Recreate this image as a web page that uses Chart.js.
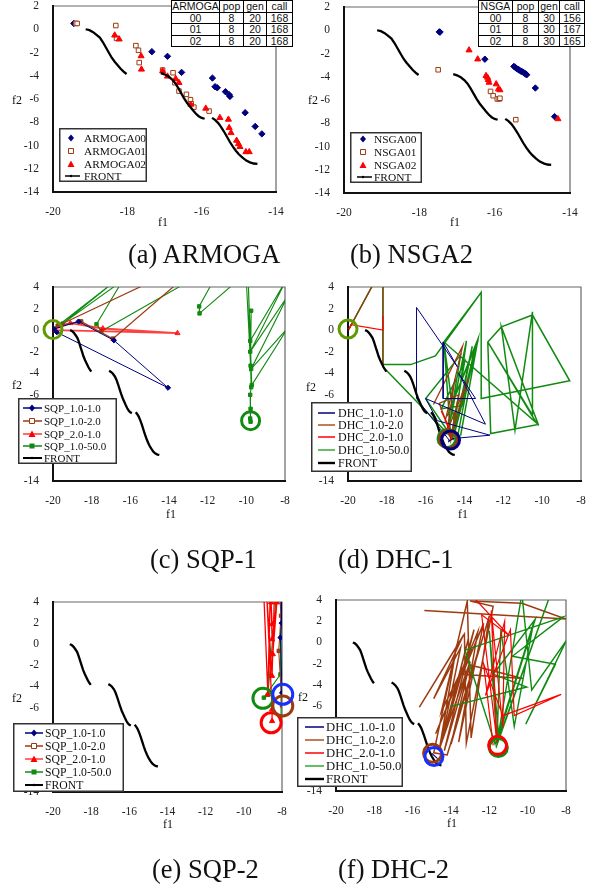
<!DOCTYPE html>
<html>
<head>
<meta charset="utf-8">
<script src="https://cdn.jsdelivr.net/npm/chart.js@4.4.1/dist/chart.umd.min.js"></script>
<style>
  body { margin: 0; background: #fff; }
  #page { position: relative; width: 594px; height: 886px; overflow: hidden; font-family: "Liberation Serif", "Times New Roman", serif; color: #111; }
  .cell { position: absolute; }
  .cap { position: absolute; font-size: 26.5px; line-height: 26.5px; white-space: nowrap; }
  .ax { position: absolute; font-size: 12px; line-height: 12px; transform: translate(-50%, -50%); }
  table.info { position: absolute; border-collapse: collapse; table-layout: fixed; font: 10.5px "Liberation Sans", Arial, sans-serif; background: #fff; }
  table.info td { border: 1.4px solid #000; padding: 0; height: 10.6px; line-height: 10.6px; text-align: center; }
</style>
</head>
<body>
<div id="page"></div>
<script>
// tick labels
const xTicksShort = [-20, -18, -16, -14];
const xTicksLong = [-20, -18, -16, -14, -12, -10, -8];
const yTicksShort = [-14, -12, -10, -8, -6, -4, -2, 0, 2];
const yTicksLong = [-14, -12, -10, -8, -6, -4, -2, 0, 2, 4];

// pareto front (three pieces)
const frontSeg1 = [[-19.12,0.0],[-19.02,-0.08],[-18.92,-0.25],[-18.82,-0.5],[-18.74,-0.72],[-18.66,-1.1],[-18.58,-1.55],[-18.5,-2.0],[-18.42,-2.45],[-18.34,-2.8],[-18.26,-3.1],[-18.18,-3.4],[-18.1,-3.65],[-18.02,-3.85]];
const frontSeg2 = [[-17.1,-3.78],[-17.0,-3.88],[-16.9,-4.05],[-16.8,-4.3],[-16.72,-4.6],[-16.64,-5.0],[-16.56,-5.45],[-16.48,-5.9],[-16.4,-6.3],[-16.32,-6.62],[-16.24,-6.95],[-16.16,-7.25],[-16.08,-7.48],[-16.0,-7.63],[-15.92,-7.7]];
const frontSeg3 = [[-15.72,-7.62],[-15.64,-7.8],[-15.56,-8.05],[-15.48,-8.4],[-15.4,-8.8],[-15.32,-9.25],[-15.24,-9.7],[-15.16,-10.1],[-15.08,-10.45],[-15.0,-10.75],[-14.9,-11.05],[-14.8,-11.3],[-14.7,-11.45],[-14.6,-11.55],[-14.5,-11.58]];

// (a) ARMOGA
const armoga00 = [[-19.44,0.5],[-17.34,-1.93],[-16.92,-2.33],[-16.54,-3.71],[-15.71,-4.2],[-15.64,-4.94],[-15.58,-5.03],[-15.36,-5.37],[-15.26,-5.63],[-15.24,-5.78],[-14.83,-7.18],[-14.56,-8.36],[-14.38,-9.0]];
const armoga01 = [[-19.39,0.5],[-19.35,0.5],[-18.31,0.32],[-18.29,-0.78],[-17.77,-1.41],[-17.7,-1.81],[-17.68,-2.87],[-17.05,-3.51],[-16.77,-3.74],[-16.72,-4.6],[-16.61,-5.32],[-16.41,-5.6],[-16.3,-6.06],[-16.28,-6.41],[-16.21,-6.7],[-15.8,-7.04]];
const armoga02 = [[-18.34,-0.52],[-18.22,-0.86],[-17.63,-2.3],[-17.62,-3.45],[-17.05,-3.59],[-16.92,-4.05],[-16.7,-4.25],[-16.61,-4.6],[-16.29,-6.47],[-15.89,-6.81],[-15.51,-7.61],[-15.28,-7.76],[-15.26,-8.48],[-15.21,-8.91],[-15.06,-9.57],[-15.01,-9.86],[-14.97,-10.11],[-14.81,-10.55],[-14.72,-10.55]];
const armogaTable = [['ARMOGA','pop','gen','call'],['00','8','20','168'],['01','8','20','168'],['02','8','20','168']];

// (b) NSGA2
const nsga00 = [[-17.47,-0.14],[-17.45,-0.16],[-16.26,-2.49],[-15.49,-3.11],[-15.45,-3.2],[-15.42,-3.29],[-15.38,-3.36],[-15.35,-3.43],[-15.31,-3.5],[-15.27,-3.57],[-15.23,-3.64],[-15.2,-3.71],[-15.17,-3.77],[-15.15,-3.83],[-14.92,-4.97],[-14.41,-7.43]];
const nsga01 = [[-17.5,-3.4],[-16.11,-5.26],[-16.04,-5.63],[-15.93,-5.91],[-15.88,-5.91],[-15.86,-5.85],[-15.44,-7.69]];
const nsga02 = [[-16.68,-1.71],[-16.45,-2.49],[-16.23,-3.91],[-16.19,-4.06],[-16.17,-4.26],[-16.15,-4.49],[-15.96,-4.63],[-15.9,-5.06],[-15.86,-5.14],[-14.32,-7.63]];
const nsgaTable = [['NSGA','pop','gen','call'],['00','8','30','156'],['01','8','30','167'],['02','8','30','165']];

// (c) SQP-1
const sqp1_a = [[-19.95,0.1],[-18.68,0.8],[-16.85,-0.95],[-14.05,-5.35],[-19.8,-0.2]];
const sqp1_b = [[-14.8,4.6],[-19.75,0.4],[-18.55,0.8],[-16.9,-0.8],[-13.4,4.6]];
const sqp1_c = [[-20,0.03],[-19.74,0.35],[-19.1,0.65],[-17.42,0.15],[-13.56,-0.28],[-19.9,0.0]];
const sqp1_d = [[-20,0.05],[-16.75,4.6],[-19.5,0.6],[-16.4,4.6],[-17.75,0.55],[-17.5,-0.1],[-12.9,4.6],[-11.7,4.6],[-12.44,2.2],[-12.42,1.55],[-10.45,4.6],[-10.0,4.6],[-9.78,-3.3],[-9.75,1.8],[-9.8,-1.0],[-7.95,4.6],[-9.8,-2.0],[-7.85,3.2],[-9.75,-3.6],[-7.85,0.2],[-9.72,-5.1],[-9.9,4.6],[-9.75,-5.3],[-9.8,-6.0],[-9.78,-7.3],[-9.8,-8.2],[-9.78,-8.5]];
const sqp1_rings = [[-20,0.05],[-9.78,-8.4]];

// (d) DHC-1
const dhc1_a = [[-14.75,-10.3],[-16.47,-6.35],[-16.47,2.1],[-14.37,-3.4],[-15.1,-1.1],[-15.1,-6.35],[-13.43,-6.35],[-14.3,-4.0],[-12.92,-8.73],[-16.0,-6.35],[-15.4,-8.4],[-12.69,-9.75],[-14.6,-10.06],[-14.85,-10.4]];
const dhc1_b = [[-19.95,0.1],[-18.6,4.6],null,[-18.2,4.6],[-18.2,-3.3],null,[-15.6,-6.9],[-14.1,-1.5],[-15.0,-8.5],[-14.5,-4.6],[-14.9,-9.4],[-13.8,-4.5],[-14.7,-9.9],[-14.3,-6.0],[-15.3,-6.8],[-14.6,-10.1],[-14.85,-10.3]];
const dhc1_c = [[-19.95,0.05],[-19.85,0.5],[-18.2,0.0],[-18.2,1.3],null,[-15.2,-7.5],[-14.6,-9.8],[-14.9,-8.7],[-14.7,-10.2]];
const dhc1_d = [[-19.95,0.1],[-18.6,4.6],null,[-18.2,4.6],[-18.2,-3.2],[-16.78,-3.2],[-15.5,-2.4],[-13.14,3.5],[-13.14,-6.35],[-8.58,-4.7],[-10.5,1.4],[-12.1,0.3],[-12.8,-1.1],[-12.65,-9.6],[-10.2,-8.75],[-12.1,0.3],[-11.4,-9.3],[-10.5,1.7],[-10.5,-7.9],[-12.8,-1.1],[-10.3,-8.6],[-15.06,-1.1],[-13.14,3.5],null,[-18.2,-3.4],[-14.55,-10.2],[-16.0,-6.35],[-14.2,-2.3],[-14.8,-9.0],[-13.9,-1.0],[-14.6,-10.0],[-13.6,-1.5],[-14.3,-8.0],[-13.4,-1.3],[-14.5,-9.5],[-13.3,-0.9],[-14.1,-7.0],[-15.2,-7.3],[-14.0,-3.0],[-14.7,-10.1],[-15.06,-1.1],[-14.4,-10.3],[-13.5,-1.8],[-14.9,-8.0],[-13.3,-0.8],[-14.2,-9.8]];

// (e) SQP-2
const sqp2_a = [[-8.05,4.6],[-8.02,2.0],[-8.08,0.63],[-8.0,-4.6]];
const sqp2_b = [[-8.12,4.6],[-8.05,2.7],[-8.17,-0.63],[-8.0,-5.8]];
const sqp2_c = [[-8.95,4.6],[-8.74,-4.75],[-8.62,4.6],[-8.52,1.9],[-8.57,3.96],[-8.52,0.47],[-8.27,3.96],[-8.48,-0.95],[-8.4,4.6],[-8.52,-3.0],[-8.8,4.6],[-8.52,-6.17],[-8.52,-7.28]];
const sqp2_d = [[-8.3,4.6],[-8.74,-4.8],[-8.95,-5.06],[-8.08,-2.85],[-8.05,4.6],[-8.05,-7.0]];

// (f) DHC-2
const dhc2_a = [[-15.0,-10.45],[-14.7,-10.95]];
const dhc2_b = [[-15.39,3.0],[-8.0,2.2],[-10.3,3.7],[-13.0,3.9],[-11.8,3.4],[-13.2,-9.5],[-13.3,0.8],[-15.65,-6.1],[-13.35,0.7],[-14.9,-5.3],[-13.5,-0.5],[-14.55,-9.8],[-13.1,0.3],[-14.4,-9.0],[-12.8,1.2],[-14.35,-10.2],[-13.05,-2.1],[-10.25,-3.4],[-13.4,-3.0],[-12.3,1.8],[-13.6,-9.4],[-12.6,1.0],[-14.8,-8.6],[-12.9,-0.6],[-14.5,-6.5],[-13.15,3.9],[-12.95,-9.0],[-12.0,2.5],[-14.2,-10.6],[-14.9,-10.4],[-13.7,-0.2],[-14.6,-10.0],[-13.0,-1.8],[-14.0,-9.6],[-12.5,-0.3],[-13.8,-8.0]];
const dhc2_c = [[-12.9,4.4],[-11.0,0.7],[-12.4,2.6],[-11.6,-9.4],[-11.9,3.0],[-11.3,-8.0],[-11.2,2.0],[-12.2,-5.0],[-10.9,1.2],[-10.7,-6.9],[-8.25,-4.9],[-11.3,-6.9],[-12.3,-2.0],[-11.8,-9.7]];
const dhc2_d = [[-14.05,-6.05],[-10.05,-4.2],[-11.8,-3.0],[-9.6,2.2],[-11.6,-9.3],[-11.4,1.2],[-10.7,-7.9],[-9.7,1.8],[-11.7,-9.6],[-13.27,-0.72],[-8.14,2.41],[-10.8,-1.3],[-8.55,-2.05],[-10.1,-7.7],[-7.97,0.22],[-9.79,-4.48],[-10.3,4.6],[-11.6,-9.5],[-12.0,1.1],[-11.5,-9.0],[-8.8,4.6],[-11.65,-9.9]];

const navy = '#00007f', brown = '#9c3a10', red = '#ff0000', green = '#118a11', olive = '#5f9a00';
const page = document.getElementById('page');

function xy(list) { return list.map(p => p ? {x: p[0], y: p[1]} : {x: null, y: null}); }
function frontSets() {
  return [frontSeg1, frontSeg2, frontSeg3].map(seg => ({ data: xy(seg), showLine: true, borderColor: '#000', borderWidth: 2.3, pointRadius: 0 }));
}
function marks(list, color, style, fill, r) {
  return { data: xy(list), showLine: false, pointStyle: style, pointRadius: r, borderColor: color, backgroundColor: fill, borderWidth: 1 };
}
function path(list, color, width, style, r) {
  return { data: xy(list), showLine: true, borderColor: color, borderWidth: width, pointStyle: style || 'circle', pointRadius: r || 0, backgroundColor: color, pointBorderWidth: 1 };
}
function ring(pt, color, r) {
  return { data: xy([pt]), showLine: false, pointStyle: 'circle', pointRadius: r, borderColor: color, borderWidth: 3, backgroundColor: 'rgba(0,0,0,0)', clip: false };
}

function drawMark(ctx, kind, x, y, color) {
  ctx.save();
  ctx.fillStyle = color; ctx.strokeStyle = color; ctx.lineWidth = 1;
  ctx.beginPath();
  if (kind === 'diamond') { ctx.moveTo(x, y - 3.5); ctx.lineTo(x + 3, y); ctx.lineTo(x, y + 3.5); ctx.lineTo(x - 3, y); ctx.closePath(); ctx.fill(); }
  else if (kind === 'openSquare') { ctx.fillStyle = '#fff'; ctx.rect(x - 2.5, y - 2.5, 5, 5); ctx.fill(); ctx.stroke(); }
  else if (kind === 'square') { ctx.rect(x - 2.5, y - 2.5, 5, 5); ctx.fill(); }
  else if (kind === 'triangle') { ctx.moveTo(x, y - 3.5); ctx.lineTo(x + 3.5, y + 3); ctx.lineTo(x - 3.5, y + 3); ctx.closePath(); ctx.fill(); }
  else if (kind === 'dot') { ctx.arc(x, y, 1.2, 0, Math.PI * 2); ctx.fill(); }
  ctx.restore();
}

function makeLegend(o) {
  return {
    id: 'boxLegend',
    afterDraw(chart) {
      const ctx = chart.ctx;
      ctx.save();
      ctx.fillStyle = '#fff';
      ctx.fillRect(o.box[0], o.box[1], o.box[2], o.box[3]);
      ctx.strokeStyle = '#333'; ctx.lineWidth = 1.5;
      ctx.strokeRect(o.box[0] + 0.75, o.box[1] + 0.75, o.box[2] - 1.5, o.box[3] - 1.5);
      ctx.font = o.size + 'px "Liberation Serif"';
      ctx.textBaseline = 'middle';
      o.items.forEach((it, i) => {
        const y = o.rows[i];
        if (it.line) {
          ctx.strokeStyle = it.lineColor || it.color; ctx.lineWidth = it.lw || 1.5;
          ctx.beginPath(); ctx.moveTo(o.line[0], y); ctx.lineTo(o.line[1], y); ctx.stroke();
        }
        if (it.mark) drawMark(ctx, it.mark, o.markX, y, it.color);
        ctx.fillStyle = '#111';
        ctx.fillText(it.label, o.textX, y + 1);
      });
      ctx.restore();
    }
  };
}

const framePlugin = {
  id: 'frame',
  beforeDatasetsDraw(chart) {
    const { ctx, chartArea: a } = chart;
    ctx.save();
    ctx.strokeStyle = '#666'; ctx.lineWidth = 1.2;
    ctx.beginPath(); ctx.moveTo(a.left, a.top); ctx.lineTo(a.right, a.top); ctx.lineTo(a.right, a.bottom); ctx.stroke();
    ctx.strokeStyle = '#111'; ctx.lineWidth = 2;
    ctx.beginPath(); ctx.moveTo(a.left, a.top - 1); ctx.lineTo(a.left, a.bottom); ctx.lineTo(a.right + 1, a.bottom); ctx.stroke();
    ctx.restore();
  }
};

function axis(list, horizontal, size, pad) {
  return {
    type: 'linear', min: list[0], max: list[list.length - 1],
    afterBuildTicks: s => { s.ticks = list.map(v => ({ value: v })); },
    afterFit: s => {
      if (horizontal) s.height = size; else s.width = size;
      s.paddingTop = 0; s.paddingBottom = 0; s.paddingLeft = 0; s.paddingRight = 0;
    },
    grid: { display: false, drawTicks: false },
    border: { display: false },
    ticks: { padding: pad, color: '#222', font: { family: 'Liberation Serif', size: 11.5 }, autoSkip: false, maxRotation: 0, callback: v => String(v) }
  };
}

function panel(p) {
  const div = document.createElement('div');
  div.className = 'cell';
  div.style.left = p.cell[0] + 'px'; div.style.top = p.cell[1] + 'px';
  const cv = document.createElement('canvas');
  cv.width = 297; cv.height = p.cell[2];
  cv.style.width = '297px'; cv.style.height = p.cell[2] + 'px';
  div.appendChild(cv);
  page.appendChild(div);
  const [L, R, T, B] = p.area;
  const hx = 30;
  new Chart(cv, {
    type: 'scatter',
    data: { datasets: p.datasets },
    options: {
      responsive: false, animation: false, events: [],
      layout: { padding: { left: 0, top: T - p.cell[1], right: p.cell[0] + 297 - R, bottom: p.cell[1] + p.cell[2] - B - hx } },
      plugins: { legend: { display: false }, tooltip: { enabled: false } },
      scales: { x: axis(p.xt, true, hx, 13), y: axis(p.yt, false, L - p.cell[0], 14) }
    },
    plugins: [framePlugin, makeLegend(p.legend)]
  });
  p.labels.forEach(([txt, x, y]) => {
    const s = document.createElement('div');
    s.className = 'ax'; s.textContent = txt;
    s.style.left = x + 'px'; s.style.top = y + 'px';
    page.appendChild(s);
  });
  const c = document.createElement('div');
  c.className = 'cap'; c.textContent = p.caption[0];
  c.style.left = p.caption[1] + 'px'; c.style.top = p.caption[2] + 'px';
  page.appendChild(c);
}

function infoTable(rows, left, widths) {
  const t = document.createElement('table');
  t.className = 'info';
  t.style.left = left + 'px'; t.style.top = '0px';
  const cg = document.createElement('colgroup');
  widths.forEach(w => { const col = document.createElement('col'); col.style.width = w + 'px'; cg.appendChild(col); });
  t.appendChild(cg);
  rows.forEach(r => {
    const tr = document.createElement('tr');
    r.forEach(v => { const td = document.createElement('td'); td.textContent = v; tr.appendChild(td); });
    t.appendChild(tr);
  });
  t.style.width = widths.reduce((a, b) => a + b, 0) + 'px';
  page.appendChild(t);
}

const legA = (labels, colors, markList, box, rows, markX, line, textX) => ({
  box, rows, markX, line, textX, size: 11.4,
  items: labels.map((l, i) => ({ label: l, color: colors[i], mark: markList[i], line: i === labels.length - 1 }))
});

panel({
  cell: [0, 0, 236], area: [53, 276, 6, 192], xt: xTicksShort, yt: yTicksShort,
  datasets: [...frontSets(),
    marks(armoga02, red, 'triangle', red, 3.5),
    marks(armoga01, brown, 'rect', '#fff', 3.2),
    marks(armoga00, navy, 'rectRot', navy, 3.2)],
  legend: legA(['ARMOGA00', 'ARMOGA01', 'ARMOGA02', 'FRONT'], [navy, brown, red, '#000'], ['diamond', 'openSquare', 'triangle', 'dot'],
    [59, 128, 88, 54], [138, 151, 164, 176], 71, [65, 80], 84),
  labels: [['f2', 17, 100], ['f1', 163, 222]],
  caption: ['(a) ARMOGA', 128, 241]
});

panel({
  cell: [297, 0, 236], area: [344, 570, 7, 193], xt: xTicksShort, yt: yTicksShort,
  datasets: [...frontSets(),
    marks(nsga02, red, 'triangle', red, 3.5),
    marks(nsga01, brown, 'rect', '#fff', 3.2),
    marks(nsga00, navy, 'rectRot', navy, 3.2)],
  legend: legA(['NSGA00', 'NSGA01', 'NSGA02', 'FRONT'], [navy, brown, red, '#000'], ['diamond', 'openSquare', 'triangle', 'dot'],
    [53, 132, 72, 51], [139, 152, 165, 177], 66, [60, 75], 77),
  labels: [['f2', 313, 100], ['f1', 455, 222]],
  caption: ['(b) NSGA2', 350, 241]
});

panel({
  cell: [0, 270, 268], area: [53, 286, 287, 481], xt: xTicksLong, yt: yTicksLong,
  datasets: [
    ring(sqp1_rings[0], olive, 9), ring(sqp1_rings[1], green, 9),
    ...frontSets(),
    path(sqp1_a, navy, 1, 'rectRot', 2.6),
    path(sqp1_b, brown, 1.2, 'rect', 2.6),
    path(sqp1_c, 'rgba(255,0,0,0.75)', 1.8, 'triangle', 3),
    path(sqp1_d, green, 1.1, 'rect', 2.4)],
  legend: { box: [18, 128, 99, 66], rows: [138, 151, 164, 176, 188], markX: 32, line: [23, 42], textX: 44, size: 11,
    items: [
      { label: 'SQP_1.0-1.0', color: navy, mark: 'diamond', line: true },
      { label: 'SQP_1.0-2.0', color: brown, mark: 'openSquare', line: true },
      { label: 'SQP_2.0-1.0', color: red, lineColor: '#ff6a6a', mark: 'triangle', line: true, lw: 2 },
      { label: 'SQP_1.0-50.0', color: green, mark: 'square', line: true },
      { label: 'FRONT', color: '#000', mark: 'dot', line: true, lw: 2 }] },
  labels: [['f2', 17, 385], ['f1', 171, 514]],
  caption: ['(c) SQP-1', 150, 546]
});

panel({
  cell: [297, 270, 268], area: [348, 581, 287, 481], xt: xTicksLong, yt: yTicksLong,
  datasets: [
    ring([-20, 0.1], olive, 9), ring([-14.72, -10.2], navy, 9), ring([-14.82, -10.12], brown, 9), ring([-14.9, -10.05], green, 9),
    ...frontSets(),
    path(dhc1_c, red, 1.2),
    path(dhc1_a, navy, 1),
    path(dhc1_b, brown, 1.3),
    path(dhc1_d, green, 1.5)],
  legend: { box: [14, 132, 101, 70], rows: [143, 155, 167, 180, 193], markX: 30, line: [21, 38], textX: 41, size: 12,
    items: [
      { label: 'DHC_1.0-1.0', color: navy, line: true },
      { label: 'DHC_1.0-2.0', color: '#b0501a', line: true },
      { label: 'DHC_2.0-1.0', color: red, line: true },
      { label: 'DHC_1.0-50.0', color: '#33aa33', line: true },
      { label: 'FRONT', color: '#000', line: true, lw: 2.4 }] },
  labels: [['f2', 311, 387], ['f1', 463, 514]],
  caption: ['(d) DHC-1', 338, 546]
});

panel({
  cell: [0, 585, 258], area: [53, 282, 602, 792], xt: xTicksLong, yt: yTicksLong,
  datasets: [
    ring([-7.96, -4.75], '#1530ff', 10), ring([-7.96, -5.85], brown, 10), ring([-8.57, -7.44], red, 10), ring([-9.0, -5.13], green, 10),
    ...frontSets(),
    path(sqp2_a, navy, 1, 'rectRot', 2.6),
    path(sqp2_b, brown, 1.1, 'rect', 2.4),
    path(sqp2_c, red, 1.3, 'triangle', 3),
    path(sqp2_d, green, 1.1, 'rect', 2.4)],
  legend: { box: [13, 138, 111, 69], rows: [148, 161, 174, 187, 200], markX: 34, line: [25, 43], textX: 45, size: 11.7,
    items: [
      { label: 'SQP_1.0-1.0', color: navy, mark: 'diamond', line: true },
      { label: 'SQP_1.0-2.0', color: brown, mark: 'openSquare', line: true },
      { label: 'SQP_2.0-1.0', color: red, lineColor: '#ff6a6a', mark: 'triangle', line: true, lw: 2 },
      { label: 'SQP_1.0-50.0', color: green, mark: 'square', line: true },
      { label: 'FRONT', color: '#000', mark: 'dot', line: true, lw: 2 }] },
  labels: [['f2', 17, 698], ['f1', 168, 824]],
  caption: ['(e) SQP-2', 152, 856]
});

panel({
  cell: [297, 585, 258], area: [336, 566, 600, 791], xt: xTicksLong, yt: yTicksLong,
  datasets: [
    ring([-14.89, -10.75], '#1530ff', 9), ring([-14.96, -10.44], brown, 9), ring([-11.57, -9.7], red, 9), ring([-11.53, -9.9], green, 9),
    ...frontSets(),
    path(dhc2_a, navy, 1.2),
    path(dhc2_c, red, 1.2),
    path(dhc2_d, green, 1.4),
    path(dhc2_b, brown, 1.5)],
  legend: { box: [0, 132, 106, 70], rows: [142, 155, 168, 181, 194], markX: 17, line: [8, 27], textX: 29, size: 12.7,
    items: [
      { label: 'DHC_1.0-1.0', color: navy, line: true },
      { label: 'DHC_1.0-2.0', color: '#b0501a', line: true },
      { label: 'DHC_2.0-1.0', color: red, line: true },
      { label: 'DHC_1.0-50.0', color: '#33aa33', line: true },
      { label: 'FRONT', color: '#000', line: true, lw: 2.4 }] },
  labels: [['f2', 303, 697], ['f1', 452, 823]],
  caption: ['(f) DHC-2', 338, 856]
});

infoTable(armogaTable, 171, [48, 24, 23, 26]);
infoTable(nsgaTable, 478, [34, 26, 21, 25]);
</script>
</body>
</html>
